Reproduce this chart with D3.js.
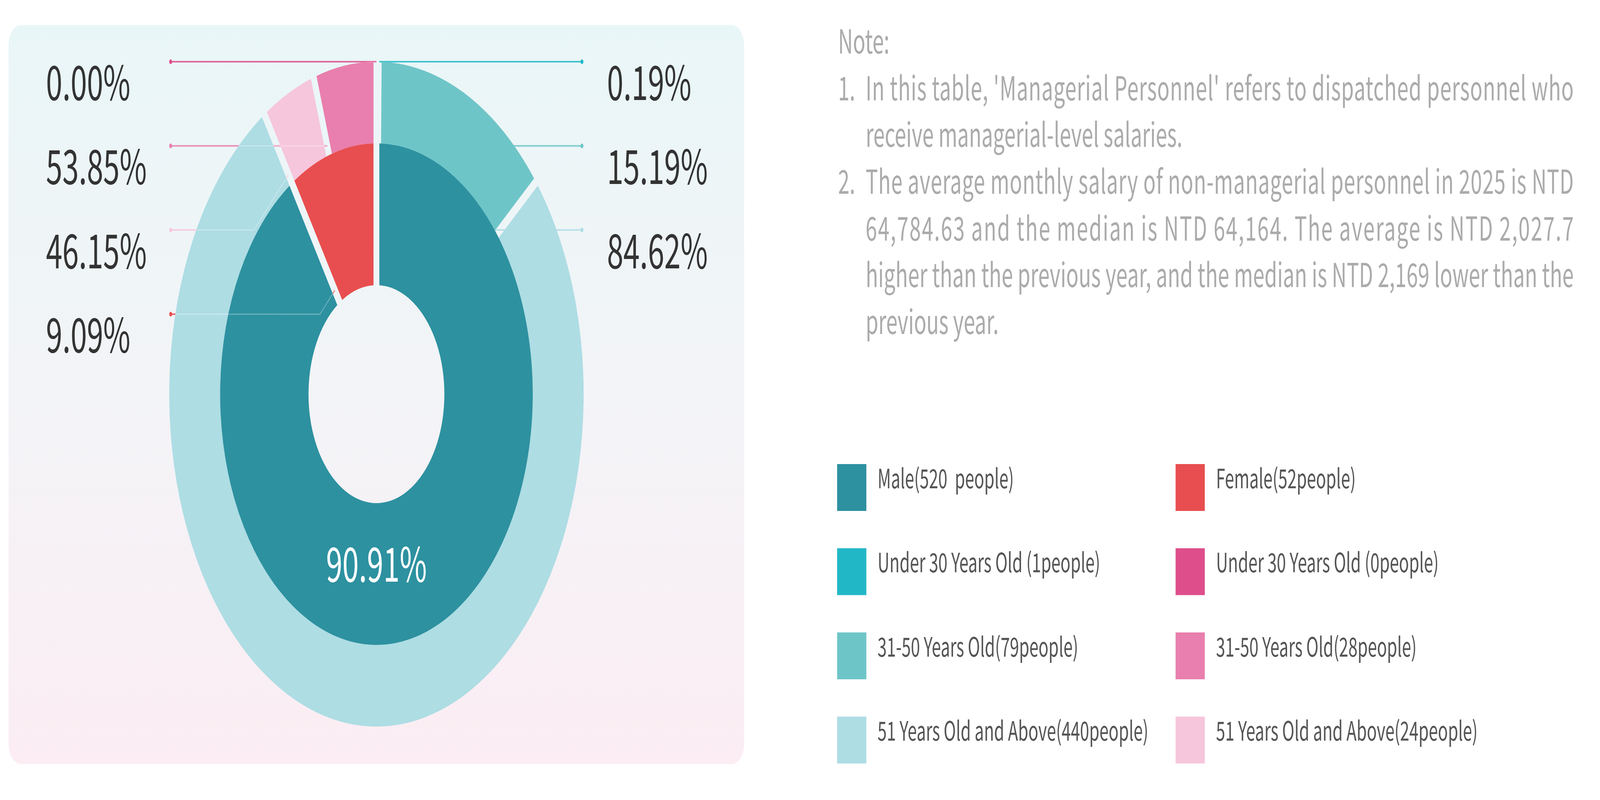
<!DOCTYPE html>
<html>
<head>
<meta charset="utf-8">
<script src="https://cdn.jsdelivr.net/npm/d3@7"></script>
<style>
html, body { margin: 0; padding: 0; background: #ffffff; overflow: hidden; }
svg { display: block; width: 100vw; height: 100vh; }
text { font-family: "Noto Sans CJK TC", "Noto Sans", sans-serif; }
</style>
</head>
<body>
<svg id="chart" viewBox="0 0 6571 2048" preserveAspectRatio="none"></svg>
<script>
// ---------------- DATA ----------------
const genders = ["Male", "Female"];
const genderCounts = [520, 52];
const genderPercents = ["90.91%", "9.09%"];

const ageGroups = ["Under 30 Years Old", "31-50 Years Old", "51 Years Old and Above"];
const maleAgeCounts = [1, 79, 440];
const femaleAgeCounts = [0, 28, 24];
const maleAgePercents = ["0.19%", "15.19%", "84.62%"];
const femaleAgePercents = ["0.00%", "53.85%", "46.15%"];

const legendLabels = [
  "Male(520  people)", "Female(52people)",
  "Under 30 Years Old (1people)", "Under 30 Years Old (0people)",
  "31-50 Years Old(79people)", "31-50 Years Old(28people)",
  "51 Years Old and Above(440people)", "51 Years Old and Above(24people)"
];

const noteTitle = "Note:";
const noteItems = [
  { num: "1.", lines: ["In this table, 'Managerial Personnel' refers to dispatched personnel who",
                       "receive managerial-level salaries."] },
  { num: "2.", lines: ["The average monthly salary of non-managerial personnel in 2025 is NTD",
                       "64,784.63 and the median is NTD 64,164. The average is NTD 2,027.7",
                       "higher than the previous year, and the median is NTD 2,169 lower than the",
                       "previous year."] }
];

// ---------------- STYLE ----------------
const genderColors = ["#2d91a0", "#e84e4f"];
const maleAgeColors = ["#22b7c7", "#6ec5c8", "#aedde4"];
const femaleAgeColors = ["#de4e8b", "#e97fae", "#f6c6dc"];

// ---------------- LAYOUT ----------------
const svg = d3.select("#chart");
const cx = 1546, cy = 1009;
const holeR = 279, innerOuterR = 642, outerOuterR = 851;
const gap = 24;

// card
const defs = svg.append("defs");
const grad = defs.append("linearGradient").attr("id", "cardGrad")
  .attr("x1", 0).attr("y1", 0).attr("x2", 0).attr("y2", 1);
grad.append("stop").attr("offset", "0%").attr("stop-color", "#e9f6f7");
grad.append("stop").attr("offset", "50%").attr("stop-color", "#f3f4f7");
grad.append("stop").attr("offset", "100%").attr("stop-color", "#fbedf3");
svg.append("rect").attr("x", 35).attr("y", 64).attr("width", 3021).attr("height", 1892)
  .attr("rx", 52).attr("ry", 52).attr("fill", "url(#cardGrad)");

defs.append("clipPath").attr("id", "ringClip")
  .append("circle").attr("cx", cx).attr("cy", cy).attr("r", outerOuterR);

// pies
const pie = d3.pie().sort(null).value(d => d.value);
const innerData = pie(genders.map((g, i) => ({ name: g, value: genderCounts[i], color: genderColors[i] })));
// outer ring: male groups clockwise, then female groups mirrored so they meet at the top
const outerInput = maleAgeCounts.map((v, i) => ({ key: "M" + i, value: v, color: maleAgeColors[i], pct: maleAgePercents[i] }))
  .concat(femaleAgeCounts.map((v, i) => ({ key: "F" + i, value: v, color: femaleAgeColors[i], pct: femaleAgePercents[i] })).reverse());
const outerData = pie(outerInput);

const padRadius = 1000;
const padAngle = 2 * Math.asin(gap / 2 / padRadius);
const innerArc = d3.arc().innerRadius(holeR).outerRadius(innerOuterR).padAngle(padAngle).padRadius(padRadius);
const outerArc = d3.arc().innerRadius(innerOuterR).outerRadius(outerOuterR).padAngle(padAngle).padRadius(padRadius);

// label rows
const rowY0 = 158, rowGap = 215.4;
const leftLineX = 701, rightLineX = 2390;
const leftTextX = 189, rightTextX = 2493;
const textDy = 98;

function polar(a, r) { return [cx + r * Math.sin(a), cy - r * Math.cos(a)]; }

// left side: female group labels (top to bottom)
const fSlice = k => outerData.find(d => d.data.key === k);
const leftLabels = [
  { text: femaleAgePercents[0], color: femaleAgeColors[0], angle: fSlice("F0").startAngle, r: outerOuterR },
  { text: femaleAgePercents[1], color: femaleAgeColors[1], angle: fSlice("F1").startAngle, r: innerOuterR + 26 },
  { text: femaleAgePercents[2], color: femaleAgeColors[2], angle: fSlice("F2").startAngle, r: innerOuterR + 26 },
  { text: genderPercents[1], color: genderColors[1], angle: innerData[1].startAngle, r: holeR + 37 }
];
leftLabels.forEach((d, i) => {
  const y = rowY0 + i * rowGap;
  const a = polar(d.angle, d.r);
  const kinkX = a[0] - Math.abs(a[1] - y);
  d.y = y;
  d.points = [[leftLineX, y], [kinkX, y], a];
});
// right side: male group labels
const rightLabels = maleAgePercents.map((t, i) => ({ text: t, color: maleAgeColors[i] }));
rightLabels.forEach((d, i) => {
  const y = rowY0 + i * rowGap;
  d.y = y;
  d.points = [[rightLineX, y], [cx + gap / 2, y]];
});

const line = d3.line();
const gLines = svg.append("g");
leftLabels.concat(rightLabels).forEach(d => {
  gLines.append("path").attr("d", line(d.points)).attr("fill", "none")
    .attr("stroke", d.color).attr("stroke-width", 4).attr("opacity", 0.85);
  gLines.append("circle").attr("cx", d.points[0][0]).attr("cy", d.points[0][1]).attr("r", 6)
    .attr("fill", d.color);
});

// rings
svg.append("g").selectAll("path").data(outerData).join("path")
  .attr("transform", `translate(${cx},${cy})`)
  .attr("d", outerArc).attr("fill", d => d.data.color);
svg.append("g").selectAll("path").data(innerData).join("path")
  .attr("transform", `translate(${cx},${cy})`)
  .attr("d", innerArc).attr("fill", d => d.data.color);

// faint dotted leader lines over the rings
const gDots = svg.append("g").attr("clip-path", "url(#ringClip)");
leftLabels.forEach(d => {
  gDots.append("path").attr("d", line(d.points)).attr("fill", "none")
    .attr("stroke", "#ffffff").attr("stroke-width", 3).attr("stroke-dasharray", "3 3").attr("opacity", 0.6);
});

// percent labels
const pctSize = 121;
leftLabels.forEach(d => {
  svg.append("text").attr("x", leftTextX).attr("y", d.y + textDy).attr("font-size", pctSize)
    .attr("fill", "#333333").text(d.text);
});
rightLabels.forEach(d => {
  svg.append("text").attr("x", rightTextX).attr("y", d.y + textDy).attr("font-size", pctSize)
    .attr("fill", "#333333").text(d.text);
});
// male label inside the inner ring, at the bottom
svg.append("text").attr("x", cx).attr("y", cy + (holeR + innerOuterR) / 2 + 20)
  .attr("text-anchor", "middle").attr("font-size", pctSize).attr("fill", "#ffffff").text(genderPercents[0]);

// notes (justified paragraphs)
const noteX = 3442, noteNumW = 113, noteY0 = 137, noteLH = 119.7, noteRight = 6463;
const noteWidth = noteRight - (noteX + noteNumW);
let noteSize = 92;
const gNote = svg.append("g").attr("fill", "#ababab");
const noteTexts = [];
gNote.append("text").attr("x", noteX).attr("y", noteY0).text(noteTitle).each(function () { noteTexts.push({ el: this, justify: false }); });
let ln = 1;
noteItems.forEach(item => {
  const numEl = gNote.append("text").attr("x", noteX).attr("y", noteY0 + ln * noteLH).text(item.num);
  noteTexts.push({ el: numEl.node(), justify: false });
  item.lines.forEach((t, j) => {
    const el = gNote.append("text").attr("x", noteX + noteNumW).attr("y", noteY0 + ln * noteLH).text(t);
    noteTexts.push({ el: el.node(), justify: j < item.lines.length - 1 });
    ln++;
  });
});
gNote.attr("font-size", noteSize);
let maxW = 0;
noteTexts.forEach(t => { if (t.justify) maxW = Math.max(maxW, t.el.getComputedTextLength()); });
if (maxW > noteWidth) noteSize = noteSize * noteWidth / maxW * 0.995;
gNote.attr("font-size", noteSize);
noteTexts.forEach(t => {
  if (t.justify) d3.select(t.el).attr("textLength", noteWidth).attr("lengthAdjust", "spacing");
});

// legend
const legendColors = [genderColors[0], genderColors[1],
  maleAgeColors[0], femaleAgeColors[0],
  maleAgeColors[1], femaleAgeColors[1],
  maleAgeColors[2], femaleAgeColors[2]];
const legX = [3438, 4828], legY0 = 1248, legRowGap = 215.5, sw = 120, legTextGap = 46, legSize = 68;
legendLabels.forEach((t, i) => {
  const col = i % 2, row = Math.floor(i / 2);
  const yc = legY0 + row * legRowGap;
  svg.append("rect").attr("x", legX[col]).attr("y", yc - sw / 2).attr("width", sw).attr("height", sw)
    .attr("fill", legendColors[i]);
  svg.append("text").attr("x", legX[col] + sw + legTextGap).attr("y", yc + 2)
    .attr("font-size", legSize).attr("fill", "#555555").style("white-space", "pre").text(t);
});
</script>
</body>
</html>
